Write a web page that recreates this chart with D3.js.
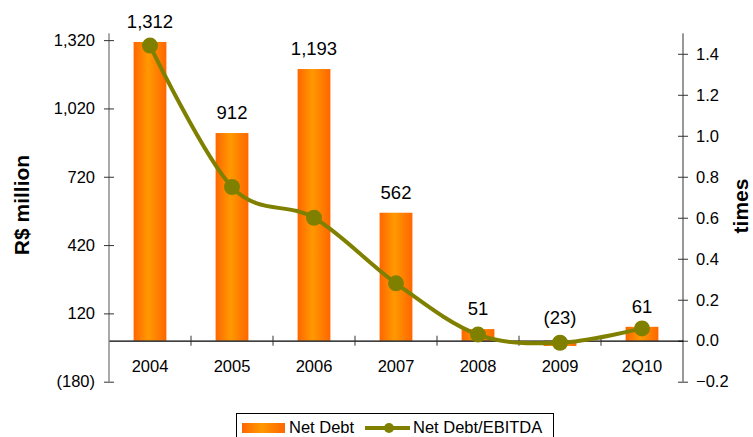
<!DOCTYPE html>
<html>
<head>
<meta charset="utf-8">
<script src="https://cdn.jsdelivr.net/npm/d3@7"></script>
<style>
  body { margin: 0; background: #fff; }
  svg text { font-family: "Liberation Sans", Arial, sans-serif; fill: #000; }
</style>
</head>
<body>
<figure style="margin:0"></figure>
<script>
// chart data
const categories = ["2004", "2005", "2006", "2007", "2008", "2009", "2Q10"];
const netDebt = [1312, 912, 1193, 562, 51, -23, 61];
const debtRatio = [1.44, 0.75, 0.60, 0.28, 0.03, -0.01, 0.06];
const leftTicks = [-180, 120, 420, 720, 1020, 1320];
const rightTicks = [-0.2, 0, 0.2, 0.4, 0.6, 0.8, 1.0, 1.2, 1.4];

const width = 753, height = 437;
const lpad = 109, rpad = 683, tpad = 33.3, bpad = 381.7;

const svg = d3.select("figure")
    .append("svg")
    .attr("width", width)
    .attr("height", height);

// gradient for the bars
const grad = svg.append("defs").append("linearGradient")
    .attr("id", "barGrad")
    .attr("x1", "0").attr("x2", "1").attr("y1", "0").attr("y2", "0");
grad.append("stop").attr("offset", "0").attr("stop-color", "#ff6600");
grad.append("stop").attr("offset", "0.45").attr("stop-color", "#ff9900");
grad.append("stop").attr("offset", "1").attr("stop-color", "#ff6600");

const xScale = d3.scaleBand()
    .domain(categories)
    .range([lpad, rpad])
    .padding(0);

const yLeft = d3.scaleLinear()
    .domain([-180, 1350])
    .range([bpad, tpad]);

const yRight = d3.scaleLinear()
    .domain([-0.2, 1.5])
    .range([bpad, tpad]);

const barW = xScale.bandwidth() * 0.4;

// bars
svg.append("g").selectAll("rect")
    .data(netDebt)
    .enter()
    .append("rect")
    .attr("x", (d, i) => xScale(categories[i]) + (xScale.bandwidth() - barW) / 2)
    .attr("y", d => yLeft(Math.max(d, 0)))
    .attr("width", barW)
    .attr("height", d => Math.abs(yLeft(d) - yLeft(0)))
    .attr("fill", "url(#barGrad)");

// left axis
const yAxisL = svg.append("g")
    .attr("transform", "translate(" + lpad + ",0)")
    .call(d3.axisLeft(yLeft).tickValues(leftTicks).tickSize(5).tickSizeOuter(0)
        .tickFormat(d => d < 0 ? "(" + d3.format(",")(-d) + ")" : d3.format(",")(d)));
yAxisL.select(".domain").attr("stroke", "#555").attr("d", "M0," + tpad + "V" + bpad);
yAxisL.selectAll(".tick line").attr("x1", 5).attr("x2", -5).attr("stroke", "#333");
yAxisL.selectAll(".tick text")
    .attr("x", -14)
    .style("font-size", "16.5px")
    .style("font-family", "Liberation Sans, Arial, sans-serif")
    .attr("fill", "#000");

// right axis
const yAxisR = svg.append("g")
    .attr("transform", "translate(" + rpad + ",0)")
    .call(d3.axisRight(yRight).tickValues(rightTicks).tickSize(5).tickSizeOuter(0)
        .tickFormat(d3.format(".1f")));
yAxisR.select(".domain").attr("stroke", "#333").attr("d", "M0," + tpad + "V" + bpad);
yAxisR.selectAll(".tick line").attr("x1", -5).attr("x2", 5).attr("stroke", "#333");
yAxisR.selectAll(".tick text")
    .attr("x", 13)
    .style("font-size", "16.5px")
    .style("font-family", "Liberation Sans, Arial, sans-serif")
    .attr("fill", "#000");

// category axis on the zero line
const xAxis = svg.append("g")
    .attr("transform", "translate(0," + yLeft(0) + ")")
    .call(d3.axisBottom(xScale).tickSize(0).tickSizeOuter(0));
xAxis.select(".domain").attr("stroke", "#000").attr("stroke-width", 1.2);
xAxis.selectAll(".tick text")
    .attr("y", 31)
    .attr("dy", 0)
    .style("font-size", "16.5px")
    .style("font-family", "Liberation Sans, Arial, sans-serif")
    .attr("fill", "#000");
// category boundary ticks
xAxis.append("g").selectAll("line")
    .data(categories.slice(1))
    .enter()
    .append("line")
    .attr("x1", d => xScale(d)).attr("x2", d => xScale(d))
    .attr("y1", -5).attr("y2", 5)
    .attr("stroke", "#333");

// value labels
svg.append("g").selectAll("text")
    .data(netDebt)
    .enter()
    .append("text")
    .attr("x", (d, i) => xScale(categories[i]) + xScale.bandwidth() / 2)
    .attr("y", d => d >= 0 ? yLeft(d) - 14 : yLeft(0) - 17)
    .attr("text-anchor", "middle")
    .style("font-size", "18.5px")
    .text(d => d < 0 ? "(" + d3.format(",")(-d) + ")" : d3.format(",")(d));

// ratio line
const line = d3.line()
    .x((d, i) => xScale(categories[i]) + xScale.bandwidth() / 2)
    .y(d => yRight(d))
    .curve(d3.curveCardinal.tension(0));

svg.append("path")
    .datum(debtRatio)
    .attr("d", line)
    .attr("fill", "none")
    .attr("stroke", "#808000")
    .attr("stroke-width", 4);

svg.append("g").selectAll("circle")
    .data(debtRatio)
    .enter()
    .append("circle")
    .attr("cx", (d, i) => xScale(categories[i]) + xScale.bandwidth() / 2)
    .attr("cy", d => yRight(d))
    .attr("r", 8)
    .attr("fill", "#808000");

// axis titles
svg.append("text")
    .attr("transform", "translate(29,205) rotate(-90)")
    .attr("text-anchor", "middle")
    .style("font-size", "21px")
    .style("font-weight", "bold")
    .text("R$ million");

svg.append("text")
    .attr("transform", "translate(748,206) rotate(-90)")
    .attr("text-anchor", "middle")
    .style("font-size", "21px")
    .style("font-weight", "bold")
    .text("times");

// legend
const legend = svg.append("g");
legend.append("rect")
    .attr("x", 236.5).attr("y", 413.5)
    .attr("width", 317).attr("height", 27)
    .attr("fill", "#fff").attr("stroke", "#000");
legend.append("rect")
    .attr("x", 242).attr("y", 423)
    .attr("width", 43).attr("height", 10)
    .attr("fill", "url(#barGrad)");
legend.append("text")
    .attr("x", 289).attr("y", 433)
    .style("font-size", "16.5px")
    .text("Net Debt");
legend.append("line")
    .attr("x1", 365).attr("x2", 410)
    .attr("y1", 428).attr("y2", 428)
    .attr("stroke", "#808000").attr("stroke-width", 4);
legend.append("circle")
    .attr("cx", 389).attr("cy", 428).attr("r", 5)
    .attr("fill", "#808000");
legend.append("text")
    .attr("x", 413).attr("y", 433)
    .style("font-size", "16.5px")
    .text("Net Debt/EBITDA");
</script>
</body>
</html>
